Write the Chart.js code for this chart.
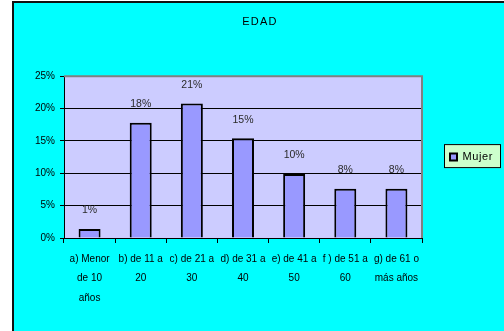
<!DOCTYPE html>
<html>
<head>
<meta charset="utf-8">
<script src="https://cdn.jsdelivr.net/npm/chart.js@4/dist/chart.umd.min.js"></script>
<style>
  html, body { margin: 0; padding: 0; background: #ffffff; }
  #wrap { width: 504px; height: 331px; position: relative; }
  canvas { display: block; }
</style>
</head>
<body>
<div id="wrap"><canvas id="c" width="504" height="331"></canvas></div>
<script>
const categories = [
  ["a) Menor", "de 10", "años"],
  ["b) de 11 a", "20"],
  ["c) de 21 a", "30"],
  ["d) de 31 a", "40"],
  ["e) de 41 a", "50"],
  ["f ) de 51 a", "60"],
  ["g) de 61 o", "más años"]
];
const mujerValues = [1.4, 17.8, 20.8, 15.4, 9.9, 7.6, 7.6];
const yTicks = [0, 5, 10, 15, 20, 25];
const seriesName = "Mujer";
const chartTitle = "EDAD";

const FONT = "'Liberation Sans', Arial, sans-serif";

function withSpacing(box, spacing) {
  if (!box || box.__spaced) return;
  const d = box.draw;
  box.draw = function () {
    const ctx = this.ctx;
    const prev = ctx.letterSpacing;
    ctx.letterSpacing = spacing;
    d.apply(this, arguments);
    ctx.letterSpacing = prev || '0px';
  };
  box.__spaced = true;
}

const framePlugin = {
  id: 'frame',
  beforeLayout(chart) {
    const lg = chart.legend;
    if (lg && !lg.__patched) {
      const f = lg.fit;
      lg.fit = function () { f.call(this); if (this.options.display) { this.width = 82; } };
      lg.__patched = true;
    }
    withSpacing(chart.legend, '0.6px');
    withSpacing(chart.titleBlock, '1.2px');
  },
  beforeDraw(chart) {
    const ctx = chart.ctx;
    const W = chart.width, H = chart.height;
    ctx.save();
    ctx.fillStyle = '#ffffff';
    ctx.fillRect(0, 0, W, H);
    ctx.fillStyle = '#00ffff';
    ctx.fillRect(12, 1, W - 12, H - 1);
    ctx.fillStyle = '#111111';
    ctx.fillRect(12, 1, 2, H - 1);
    ctx.fillRect(12, 1, W - 12, 2);
    // plot area
    const a = chart.chartArea;
    ctx.fillStyle = '#ccccff';
    ctx.fillRect(a.left, a.top, a.right - a.left, a.bottom - a.top);
    // legend box
    const lg = chart.legend;
    if (lg) {
      const cy = (lg.top + lg.bottom) / 2 - 1;
      const x0 = lg.left + 22, x1 = lg.left + 79;
      ctx.fillStyle = '#ccffcc';
      ctx.fillRect(x0, cy - 12, x1 - x0, 24);
      ctx.strokeStyle = '#000000';
      ctx.lineWidth = 1;
      ctx.strokeRect(x0 + 0.5, cy - 12 + 0.5, x1 - x0 - 1, 23);
    }
    ctx.restore();
  },
  beforeDatasetsDraw(chart) {
    const ctx = chart.ctx;
    const a = chart.chartArea;
    ctx.save();
    ctx.strokeStyle = '#808080';
    ctx.lineWidth = 2;
    ctx.beginPath();
    ctx.moveTo(a.left, a.top);
    ctx.lineTo(a.right, a.top);
    ctx.lineTo(a.right, a.bottom);
    ctx.stroke();
    ctx.restore();
  },
  afterDatasetsDraw(chart) {
    const ctx = chart.ctx;
    const meta = chart.getDatasetMeta(0);
    const data = chart.data.datasets[0].data;
    ctx.save();
    ctx.font = "10.5px " + FONT;
    ctx.fillStyle = '#2a2a2a';
    ctx.textAlign = 'center';
    ctx.textBaseline = 'middle';
    meta.data.forEach((bar, i) => {
      ctx.fillText(Math.round(data[i]) + '%', bar.x, bar.y - 18.5);
    });
    ctx.restore();
  }
};

new Chart(document.getElementById('c'), {
  type: 'bar',
  data: {
    labels: categories,
    datasets: [{
      label: seriesName,
      data: mujerValues,
      backgroundColor: '#9999ff',
      borderColor: '#000000',
      borderWidth: 2,
      barPercentage: 0.43,
      categoryPercentage: 1.0
    }]
  },
  options: {
    responsive: false,
    animation: false,
    devicePixelRatio: 1,
    layout: { padding: { left: 16, top: 3, right: 0, bottom: 0 } },
    plugins: {
      title: {
        display: true,
        text: chartTitle,
        color: '#000000',
        font: { family: FONT, size: 11, weight: 'normal' },
        padding: { top: 12, bottom: 48 }
      },
      legend: {
        display: true,
        position: 'right',
        fullSize: false,
        labels: {
          color: '#000000',
          font: { family: FONT, size: 11 },
          boxWidth: 7,
          boxHeight: 7,
          padding: 28
        }
      },
      tooltip: { enabled: false }
    },
    scales: {
      x: {
        offset: true,
        grid: {
          offset: true,
          drawOnChartArea: false,
          drawTicks: true,
          tickLength: 5,
          color: '#000000'
        },
        border: { display: true, color: '#000000', width: 1 },
        ticks: {
          color: '#000000',
          font: { family: FONT, size: 10, lineHeight: 1.95 },
          padding: 6,
          maxRotation: 0,
          minRotation: 0,
          autoSkip: false
        },
        afterFit(scale) { scale.height = 93; }
      },
      y: {
        min: 0,
        max: 25,
        afterBuildTicks(scale) { scale.ticks = yTicks.map(v => ({ value: v })); },
        grid: {
          color: (c) => (c.tick && c.tick.value === 25) ? 'rgba(0,0,0,0)' : '#000000',
          tickColor: '#000000',
          tickLength: 4,
          lineWidth: 1
        },
        border: { display: true, color: '#000000', width: 1 },
        ticks: {
          color: '#000000',
          font: { family: FONT, size: 10 },
          padding: 5,
          callback: (v) => v + '%'
        },
        afterFit(scale) { scale.width = 48; }
      }
    }
  },
  plugins: [framePlugin]
});
</script>
</body>
</html>
